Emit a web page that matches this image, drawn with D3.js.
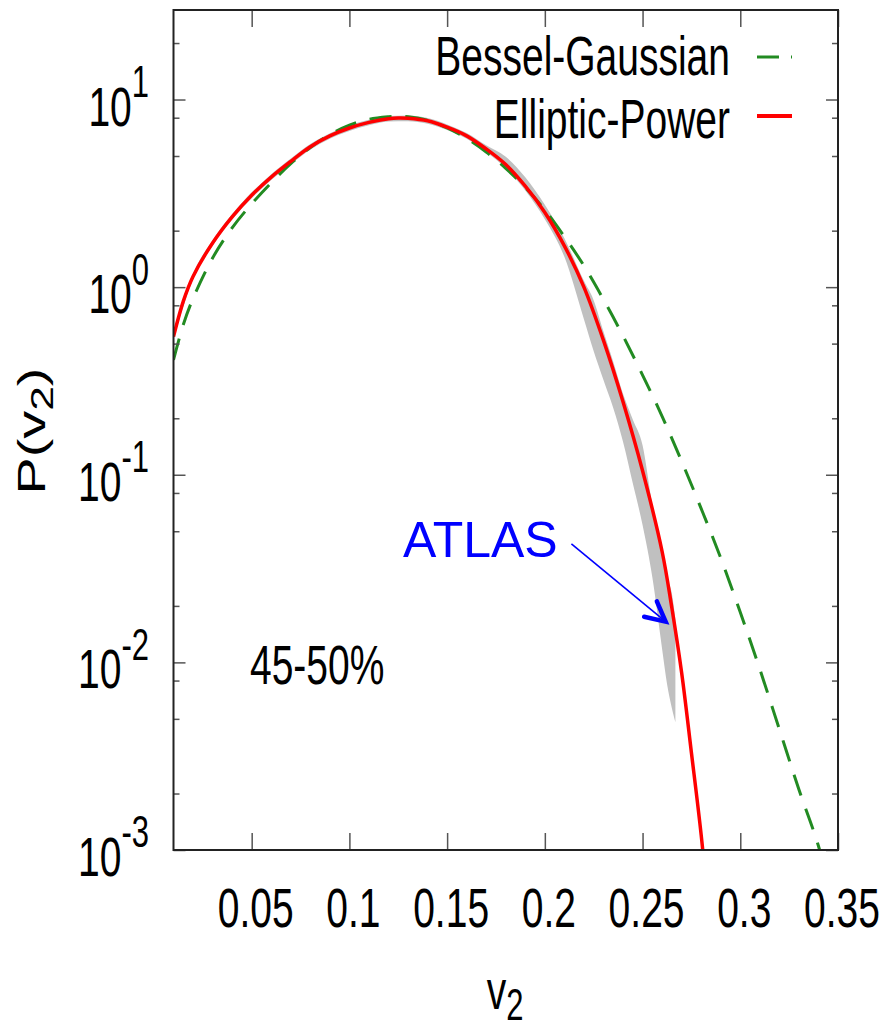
<!DOCTYPE html>
<html>
<head>
<meta charset="utf-8">
<script src="https://cdn.jsdelivr.net/npm/d3@7"></script>
<style>
  html, body { margin: 0; padding: 0; background: #fff; }
  svg { display: block; }
  text { font-family: "Liberation Sans", Arial, Helvetica, sans-serif; }
</style>
</head>
<body>
<svg id="chart" width="888" height="1032"></svg>
<script>
// ---------------- data ----------------
const xTickValues = [0.05, 0.1, 0.15, 0.2, 0.25, 0.3, 0.35];
const xTickLabels = ["0.05", "0.1", "0.15", "0.2", "0.25", "0.3", "0.35"];
const yMajorValues = [0.001, 0.01, 0.1, 1, 10];
const yMajorExponents = ["-3", "-2", "-1", "0", "1"];
const yMinorValues = [0.002, 0.005, 0.008, 0.02, 0.05, 0.08, 0.2, 0.5, 0.8, 2, 5, 8, 20];

// Elliptic-Power fit (red)
const epV = [0.01, 0.015, 0.02, 0.03, 0.04, 0.05, 0.06, 0.07, 0.08, 0.09, 0.10, 0.11, 0.12, 0.125, 0.13, 0.14, 0.15, 0.16, 0.17, 0.18, 0.19, 0.20, 0.21, 0.22, 0.23, 0.24, 0.25, 0.26, 0.265, 0.27, 0.275, 0.28, 0.285];
const epP = [0.545, 0.84, 1.14, 1.72, 2.37, 3.09, 3.86, 4.68, 5.6, 6.4, 7.05, 7.55, 7.9, 7.98, 7.95, 7.7, 7.12, 6.4, 5.45, 4.5, 3.45, 2.5, 1.66, 1.0, 0.52, 0.245, 0.105, 0.039, 0.0195, 0.0088, 0.0033, 0.0012, 0.00035];

// Bessel-Gaussian fit (green dashed)
const bgV = [0.01, 0.015, 0.02, 0.03, 0.04, 0.05, 0.06, 0.07, 0.08, 0.09, 0.10, 0.11, 0.12, 0.125, 0.13, 0.14, 0.15, 0.16, 0.17, 0.18, 0.19, 0.20, 0.21, 0.22, 0.23, 0.24, 0.25, 0.26, 0.27, 0.28, 0.29, 0.30, 0.31, 0.32, 0.33, 0.34, 0.35];
const bgP = [0.41, 0.63, 0.87, 1.43, 2.07, 2.78, 3.6, 4.55, 5.55, 6.5, 7.3, 7.85, 8.1, 8.15, 8.1, 7.75, 7.05, 6.2, 5.25, 4.3, 3.4, 2.58, 1.86, 1.3, 0.86, 0.55, 0.34, 0.205, 0.118, 0.066, 0.036, 0.0185, 0.0092, 0.0044, 0.0021, 0.00105, 0.00042];

// ATLAS data band (gray)
const atlasV = [0.01, 0.02, 0.03, 0.04, 0.05, 0.06, 0.07, 0.08, 0.09, 0.10, 0.11, 0.12, 0.13, 0.14, 0.15, 0.16, 0.17, 0.18, 0.19, 0.20, 0.21, 0.22, 0.225, 0.23, 0.235, 0.24, 0.245, 0.25, 0.255, 0.26, 0.2625, 0.265, 0.2668];
const atlasLow = [0.525, 1.10, 1.66, 2.29, 2.98, 3.72, 4.52, 5.4, 6.18, 6.8, 7.29, 7.63, 7.67, 7.43, 6.87, 6.17, 5.25, 4.3, 3.27, 2.3, 1.45, 0.675, 0.455, 0.32, 0.227, 0.15, 0.09, 0.054, 0.0284, 0.0118, 0.0077, 0.0057, 0.0048];
const atlasHigh = [0.565, 1.18, 1.78, 2.45, 3.2, 4.0, 4.85, 5.8, 6.62, 7.3, 7.81, 8.17, 8.23, 7.97, 7.37, 6.63, 5.7, 4.95, 3.85, 2.75, 1.82, 1.08, 0.85, 0.58, 0.40, 0.27, 0.197, 0.1435, 0.0689, 0.0394, 0.0282, 0.0233, 0.0170];

// annotation arrow (data coordinates)
const arrowFrom = [0.2136, 0.0428];
const arrowTo = [0.2618, 0.0165];

const legendLabels = ["Bessel-Gaussian", "Elliptic-Power"];
const centralityLabel = "45-50%";
const atlasLabel = "ATLAS";

// ---------------- layout ----------------
const L = 173.5, R = 838, T = 10, B = 850;
const SY = 1.43;          // vertical stretch of the original figure text
const FS = 39, FSsub = 31;

const svg = d3.select("#chart");
const x = d3.scaleLinear().domain([0.01, 0.35]).range([L, R]);
const y = d3.scaleLog().domain([0.001, 30]).range([B, T]);

svg.append("defs").append("clipPath").attr("id", "plotclip")
  .append("rect").attr("x", L).attr("y", T).attr("width", R - L).attr("height", B - T);

const plot = svg.append("g").attr("clip-path", "url(#plotclip)");

// ATLAS band
const band = atlasV.map((v, i) => ({ v, lo: atlasLow[i], hi: atlasHigh[i] }));
plot.append("path")
  .datum(band)
  .attr("d", d3.area().x(d => x(d.v)).y0(d => y(d.lo)).y1(d => y(d.hi)).curve(d3.curveMonotoneX))
  .attr("fill", "#c0c0c0").attr("stroke", "none");

// Bessel-Gaussian
const lineGen = d3.line().x(d => x(d[0])).y(d => y(d[1])).curve(d3.curveCatmullRom.alpha(0.5));
plot.append("path")
  .datum(bgV.map((v, i) => [v, bgP[i]]))
  .attr("d", lineGen)
  .attr("fill", "none").attr("stroke", "#228b22").attr("stroke-width", 3)
  .attr("stroke-dasharray", "22,14");

// Elliptic-Power
plot.append("path")
  .datum(epV.map((v, i) => [v, epP[i]]))
  .attr("d", lineGen)
  .attr("fill", "none").attr("stroke", "#ff0000").attr("stroke-width", 3.5);

// ---------------- axes (ticks) ----------------
function styleAxis(g) {
  g.select(".domain").remove();
  g.selectAll(".tick line").attr("stroke", "#555").attr("stroke-width", 1.5);
  g.selectAll(".tick text").remove();
}
svg.append("g").attr("transform", `translate(0,${B})`)
  .call(d3.axisBottom(x).tickValues(xTickValues).tickSize(-17).tickFormat(""))
  .call(styleAxis);
svg.append("g").attr("transform", `translate(0,${T})`)
  .call(d3.axisTop(x).tickValues(xTickValues).tickSize(-17).tickFormat(""))
  .call(styleAxis);
svg.append("g").attr("transform", `translate(${L},0)`)
  .call(d3.axisLeft(y).tickValues(yMajorValues).tickSize(-12).tickFormat(""))
  .call(styleAxis);
svg.append("g").attr("transform", `translate(${L},0)`)
  .call(d3.axisLeft(y).tickValues(yMinorValues).tickSize(-6).tickFormat(""))
  .call(styleAxis);
svg.append("g").attr("transform", `translate(${R},0)`)
  .call(d3.axisRight(y).tickValues(yMajorValues).tickSize(-12).tickFormat(""))
  .call(styleAxis);
svg.append("g").attr("transform", `translate(${R},0)`)
  .call(d3.axisRight(y).tickValues(yMinorValues).tickSize(-6).tickFormat(""))
  .call(styleAxis);

// frame
svg.append("rect").attr("x", L).attr("y", T).attr("width", R - L).attr("height", B - T)
  .attr("fill", "none").attr("stroke", "#222").attr("stroke-width", 2);

// ---------------- tick labels ----------------
xTickValues.forEach((v, i) => {
  svg.append("text")
    .attr("transform", `translate(${x(v) + 4},926.7) scale(1,${SY})`)
    .attr("text-anchor", "middle").attr("font-size", FS).attr("fill", "#000")
    .text(xTickLabels[i]);
});

yMajorValues.forEach((v, i) => {
  const t = svg.append("text")
    .attr("transform", `translate(149,${y(v) + 26}) scale(1,${SY})`)
    .attr("text-anchor", "end").attr("font-size", FS).attr("fill", "#000");
  t.append("tspan").text("10");
  t.append("tspan").attr("dy", -20).attr("font-size", FSsub).text(yMajorExponents[i]);
});

// ---------------- axis titles ----------------
const xt = svg.append("text")
  .attr("transform", `translate(505,1009) scale(1,${SY})`)
  .attr("text-anchor", "middle").attr("font-size", FS).attr("fill", "#000");
xt.append("tspan").text("v");
xt.append("tspan").attr("dy", 8).attr("font-size", FSsub).text("2");

const yt = svg.append("text")
  .attr("transform", `translate(45,431) rotate(-90) scale(${SY},1)`)
  .attr("text-anchor", "middle").attr("font-size", FS).attr("fill", "#000");
yt.append("tspan").text("P(v");
yt.append("tspan").attr("dy", 8).attr("font-size", FSsub).text("2");
yt.append("tspan").attr("dy", -8).text(")");

// ---------------- legend ----------------
const legendColors = ["#228b22", "#ff0000"];
const legendDash = ["22,12", null];
const legendWidths = [3, 4];
const legendBase = [75, 138];
const legendLineY = [57, 116];
legendLabels.forEach((lab, i) => {
  svg.append("text")
    .attr("transform", `translate(730,${legendBase[i]}) scale(1,${SY})`)
    .attr("text-anchor", "end").attr("font-size", FS).attr("fill", "#000")
    .text(lab);
  svg.append("line")
    .attr("x1", 757).attr("x2", 792).attr("y1", legendLineY[i]).attr("y2", legendLineY[i])
    .attr("stroke", legendColors[i]).attr("stroke-width", legendWidths[i])
    .attr("stroke-dasharray", legendDash[i]);
});

// ---------------- annotations ----------------
svg.append("text")
  .attr("transform", `translate(250,684) scale(1,${SY})`)
  .attr("text-anchor", "start").attr("font-size", FS).attr("fill", "#000")
  .text(centralityLabel);

svg.append("text")
  .attr("x", 403).attr("y", 557)
  .attr("font-size", 50).attr("fill", "#0000ff")
  .text(atlasLabel);

const ax0 = x(arrowFrom[0]), ay0 = y(arrowFrom[1]);
const ax1 = x(arrowTo[0]), ay1 = y(arrowTo[1]);
svg.append("line")
  .attr("x1", ax0).attr("y1", ay0).attr("x2", ax1).attr("y2", ay1)
  .attr("stroke", "#0000ff").attr("stroke-width", 1.6);
const ang = Math.atan2(ay0 - ay1, ax0 - ax1);
const armLen = 22, spread = 27 * Math.PI / 180;
const p1 = [ax1 + armLen * Math.cos(ang + spread), ay1 + armLen * Math.sin(ang + spread)];
const p2 = [ax1 + armLen * Math.cos(ang - spread), ay1 + armLen * Math.sin(ang - spread)];
svg.append("path")
  .attr("d", `M${p1[0]},${p1[1]}L${ax1},${ay1}L${p2[0]},${p2[1]}`)
  .attr("fill", "none").attr("stroke", "#0000ff").attr("stroke-width", 4.5)
  .attr("stroke-linecap", "round").attr("stroke-linejoin", "miter");
</script>
</body>
</html>
